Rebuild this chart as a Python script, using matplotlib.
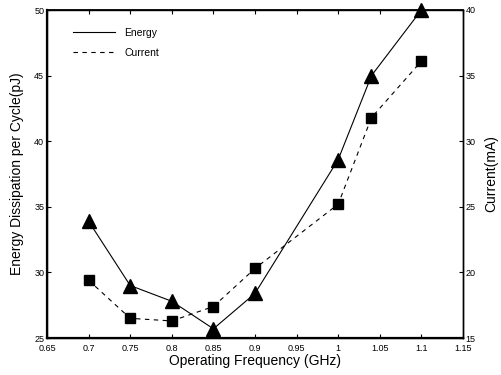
import matplotlib
matplotlib.use("Agg")
import matplotlib.pyplot as plt
from matplotlib.lines import Line2D

plt.rcParams['font.family'] = ['Liberation Sans', 'DejaVu Sans']

freq = [0.7, 0.75, 0.8, 0.85, 0.9, 1.0, 1.04, 1.1]
energy = [33.9, 29.0, 27.8, 25.7, 28.4, 38.6, 45.0, 50.0]
current = [19.4, 16.5, 16.3, 17.4, 20.3, 25.2, 31.8, 36.1]
xticks = [0.65, 0.7, 0.75, 0.8, 0.85, 0.9, 0.95, 1.0, 1.05, 1.1, 1.15]
xtick_labels = ['0.65', '0.7', '0.75', '0.8', '0.85', '0.9', '0.95', '1', '1.05', '1.1', '1.15']
left_ticks = [25, 30, 35, 40, 45, 50]
right_ticks = [15, 20, 25, 30, 35, 40]

fig = plt.figure(figsize=(5.01, 3.75), dpi=100)
ax = fig.add_axes([47/501, 1-338/375, (463-47)/501, (338-10)/375])
ax2 = ax.twinx()

ax.plot(freq, energy, color='black', linestyle='-', linewidth=0.8,
        marker='^', markersize=10, markerfacecolor='black', markeredgecolor='black',
        clip_on=False, zorder=3)
ax2.plot(freq, current, color='black', linestyle=(0, (4, 4)), linewidth=0.8,
         marker='s', markersize=7, markerfacecolor='black', markeredgecolor='black',
         clip_on=False, zorder=3)

ax.set_xlim(0.65, 1.15)
ax.set_ylim(25, 50)
ax2.set_ylim(15, 40)
ax.set_xticks(xticks)
ax.set_xticklabels(xtick_labels)
ax.set_yticks(left_ticks)
ax2.set_yticks(right_ticks)

ax.tick_params(axis='both', direction='in', length=3, width=0.8, labelsize=6.5, pad=2,
               top=True, bottom=True, left=True, right=False)
ax.tick_params(axis='x', pad=4)
ax2.tick_params(axis='y', direction='in', length=3, width=0.8, labelsize=6.5, pad=2)

for a in (ax, ax2):
    for s in a.spines.values():
        s.set_linewidth(1.0)
        s.set_color('black')
ax.spines['left'].set_linewidth(1.6)
ax.spines['bottom'].set_linewidth(1.6)
ax.spines['top'].set_linewidth(1.3)

ax.set_xlabel('Operating Frequency (GHz)', fontsize=10, labelpad=1)
ax.set_ylabel('Energy Dissipation per Cycle(pJ)', fontsize=10, labelpad=7)
ax2.set_ylabel('Current(mA)', fontsize=10, labelpad=6)

h1 = Line2D([], [], color='black', linestyle='-', linewidth=0.8)
h2 = Line2D([], [], color='black', linestyle=(0, (4, 4)), linewidth=0.8)
ax.legend([h1, h2], ['Energy', 'Current'], loc='upper left', frameon=False, fontsize=7.5,
          bbox_to_anchor=(0.04, 0.975), handlelength=4.0, handletextpad=0.9, labelspacing=1.0)

fig.savefig('out.png', dpi=100)
